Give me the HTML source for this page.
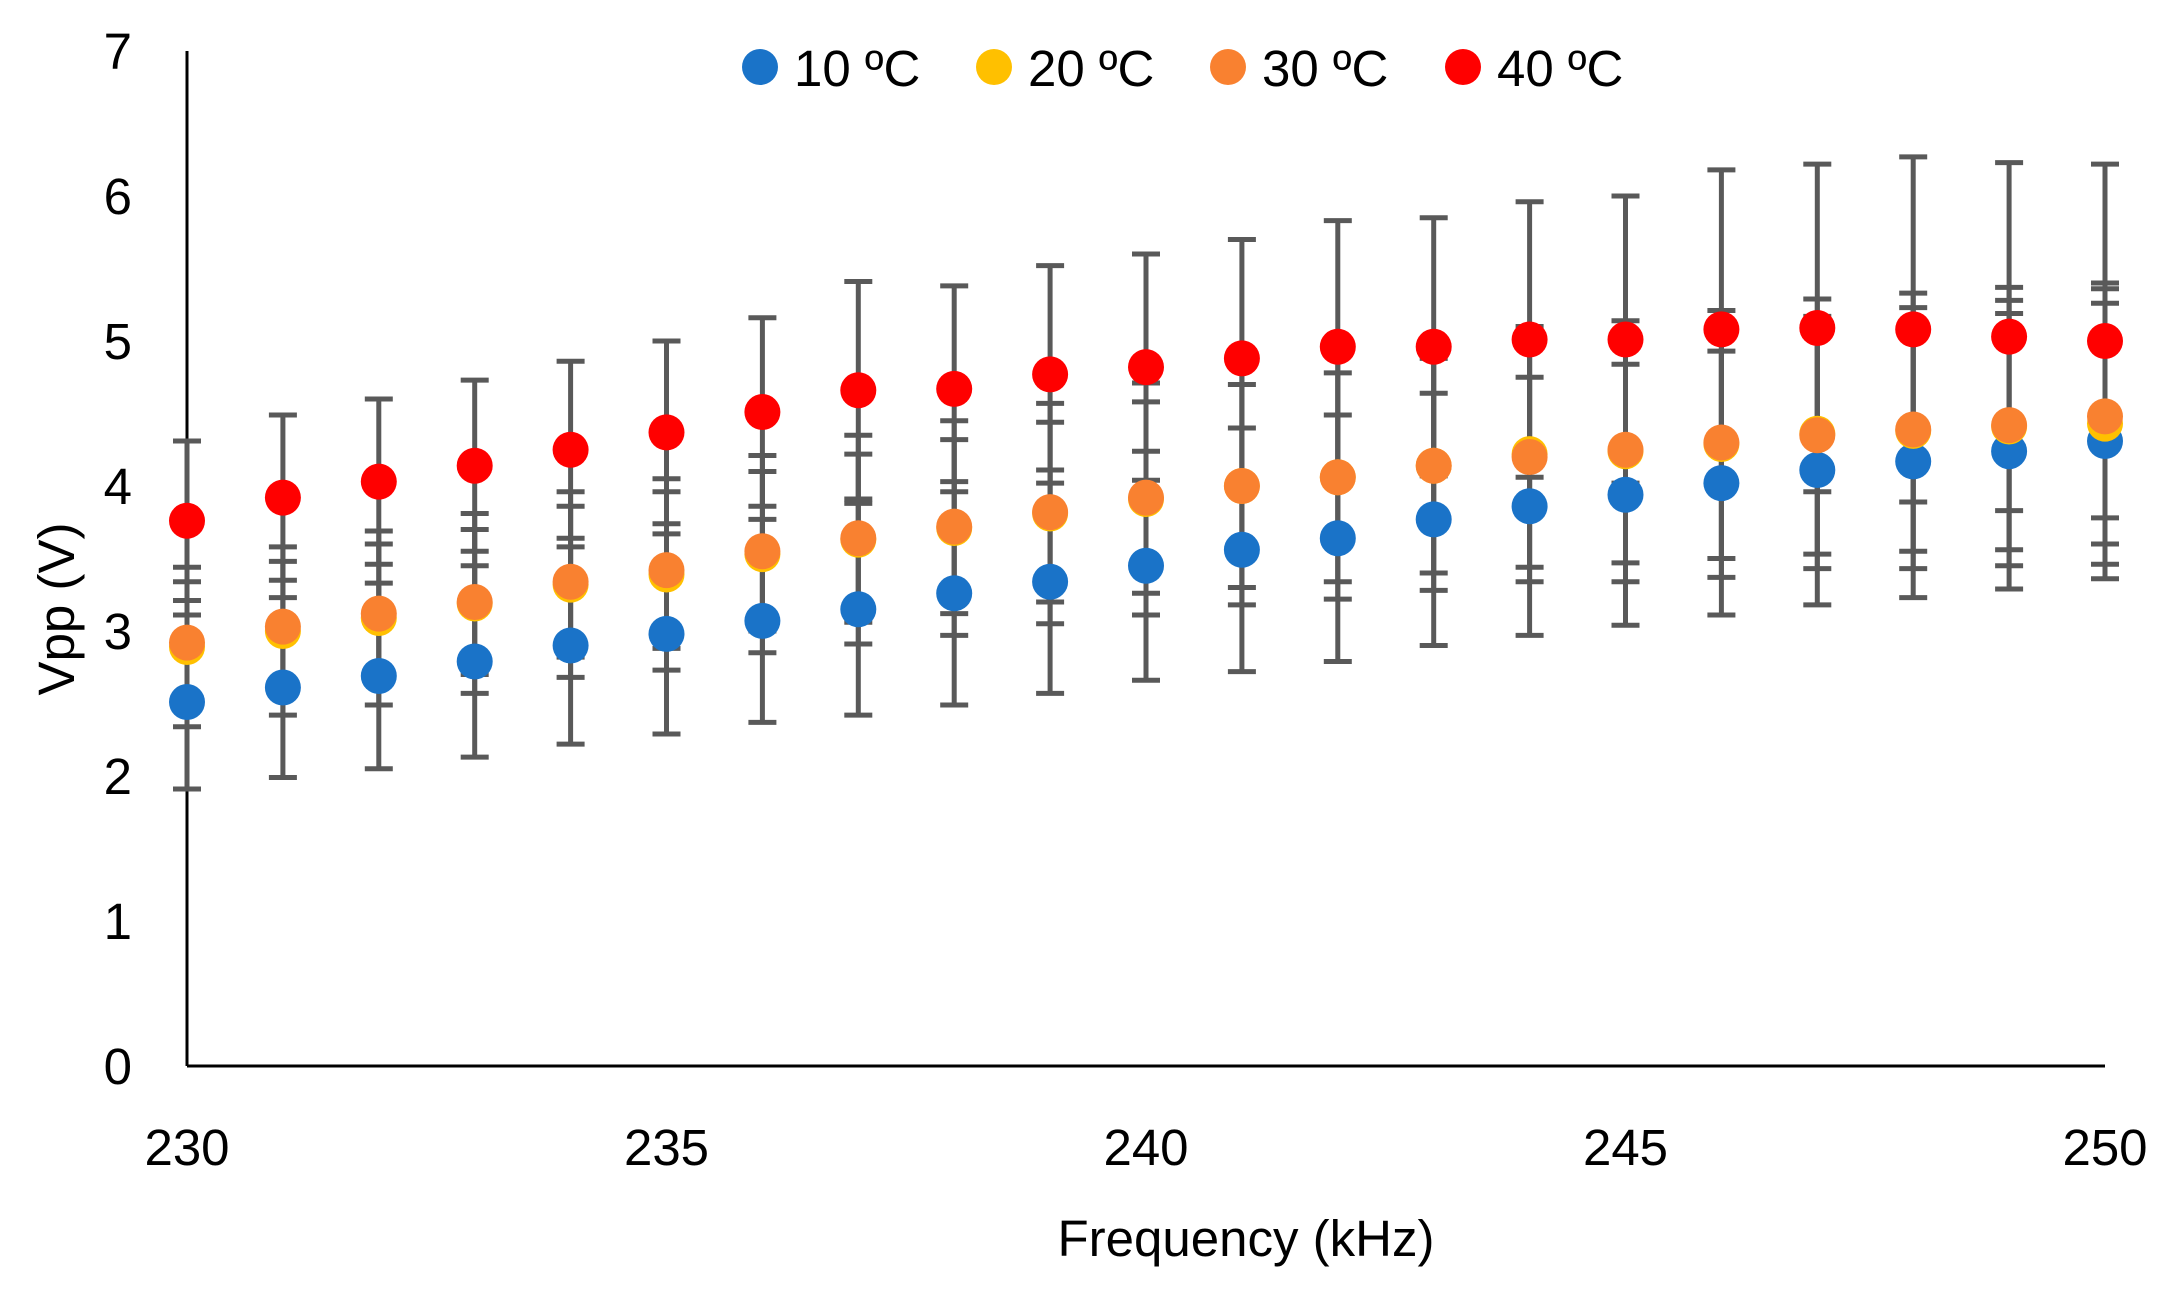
<!DOCTYPE html>
<html><head><meta charset="utf-8"><style>
body{margin:0;background:#fff;}
svg{display:block;font-family:"Liberation Sans",sans-serif;}
</style></head><body>
<svg id="chart" width="2171" height="1293" viewBox="0 0 2171 1293" xmlns="http://www.w3.org/2000/svg">
<g id="axes"></g>
<g id="errs"></g>
<g id="marks"></g>
<g id="legend"></g>
<text x="1246" y="1256" font-size="51" text-anchor="middle" fill="#000">Frequency (kHz)</text>
<text transform="translate(74,609) rotate(-90)" font-size="51" text-anchor="middle" fill="#000">Vpp (V)</text>
</svg>
<script>
const freqs=[230,231,232,233,234,235,236,237,238,239,240,241,242,243,244,245,246,247,248,249,250];
const v10=[2.51,2.61,2.69,2.79,2.90,2.98,3.07,3.15,3.26,3.34,3.45,3.56,3.64,3.77,3.86,3.94,4.02,4.11,4.17,4.24,4.31];
const e10=[0.60,0.62,0.64,0.66,0.68,0.69,0.70,0.73,0.77,0.77,0.79,0.84,0.85,0.87,0.89,0.90,0.91,0.93,0.94,0.95,0.95];
const v20=[2.89,3.00,3.09,3.19,3.32,3.39,3.53,3.63,3.71,3.81,3.91,4.00,4.06,4.14,4.22,4.24,4.29,4.36,4.38,4.41,4.43];
const e20=[0.55,0.58,0.60,0.62,0.64,0.66,0.68,0.72,0.74,0.76,0.80,0.82,0.84,0.86,0.88,0.90,0.92,0.93,0.95,0.96,0.97];
const v30=[2.92,3.03,3.12,3.20,3.34,3.42,3.55,3.64,3.72,3.82,3.92,4.00,4.06,4.14,4.20,4.25,4.30,4.35,4.39,4.42,4.48];
const e30=[0.42,0.45,0.48,0.50,0.52,0.54,0.55,0.58,0.60,0.62,0.66,0.70,0.72,0.74,0.76,0.78,0.80,0.82,0.84,0.86,0.88];
const v40=[3.76,3.92,4.03,4.14,4.25,4.37,4.51,4.66,4.67,4.77,4.82,4.88,4.96,4.96,5.01,5.01,5.08,5.09,5.08,5.03,5.00];
const e40=[0.55,0.57,0.57,0.59,0.61,0.63,0.65,0.75,0.71,0.75,0.78,0.82,0.87,0.89,0.95,0.99,1.10,1.13,1.19,1.20,1.22];
const xTicks=[230,235,240,245,250];
const yTicks=[0,1,2,3,4,5,6,7];
const seriesNames=["10 ºC","20 ºC","30 ºC","40 ºC"];
const seriesColors=["#1a73c8","#ffc000","#f98130","#ff0000"];
const seriesVals=[v10,v20,v30,v40];
const seriesErrs=[e10,e20,e30,e40];

const NS="http://www.w3.org/2000/svg";
const X0=187,X1=2105,Y0=1066,Y1=51;
function xs(f){return X0+(f-230)/(250-230)*(X1-X0);}
function ys(v){return Y0-v/7*(Y0-Y1);}
function mk(tag,attrs,parent){const e=document.createElementNS(NS,tag);for(const k in attrs)e.setAttribute(k,attrs[k]);parent.appendChild(e);return e;}
const axes=document.getElementById('axes'),errs=document.getElementById('errs'),marks=document.getElementById('marks'),legend=document.getElementById('legend');

let l=mk('line',{x1:X0,y1:Y1,x2:X0,y2:Y0,stroke:'#000','stroke-width':3},axes);


l=mk('line',{x1:X0,y1:Y0,x2:X1,y2:Y0,stroke:'#000','stroke-width':3},axes);


yTicks.forEach(t=>{
  const e=mk('text',{x:132,y:ys(t)+18,'font-size':51,'text-anchor':'end',fill:'#000'},axes);
  e.textContent=t;
  
  
});
xTicks.forEach(t=>{
  const e=mk('text',{x:xs(t),y:1165,'font-size':51,'text-anchor':'middle',fill:'#000'},axes);
  e.textContent=t;
  
  
});
seriesVals.forEach((vals,s)=>{
  vals.forEach((v,i)=>{
    const x=xs(freqs[i]),e=seriesErrs[s][i];
    const g=mk('g',{},errs);
    
    
    mk('line',{x1:x,y1:ys(v-e),x2:x,y2:ys(v+e),stroke:'#595959','stroke-width':5},g);
    mk('line',{x1:x-14,y1:ys(v-e),x2:x+14,y2:ys(v-e),stroke:'#595959','stroke-width':5},g);
    mk('line',{x1:x-14,y1:ys(v+e),x2:x+14,y2:ys(v+e),stroke:'#595959','stroke-width':5},g);
  });
});
seriesVals.forEach((vals,s)=>{
  vals.forEach((v,i)=>{
    const c=mk('circle',{cx:xs(freqs[i]),cy:ys(v),r:18,fill:seriesColors[s]},marks);
    
    
  });
});
const lx=[760,994,1228,1463];
seriesNames.forEach((n,s)=>{
  const g=mk('g',{},legend);
  
  
  mk('circle',{cx:lx[s],cy:67,r:18,fill:seriesColors[s]},g);
  const t=mk('text',{x:lx[s]+34,y:86,'font-size':51,fill:'#000'},g);
  t.textContent=n;
});
</script>
</body></html>
